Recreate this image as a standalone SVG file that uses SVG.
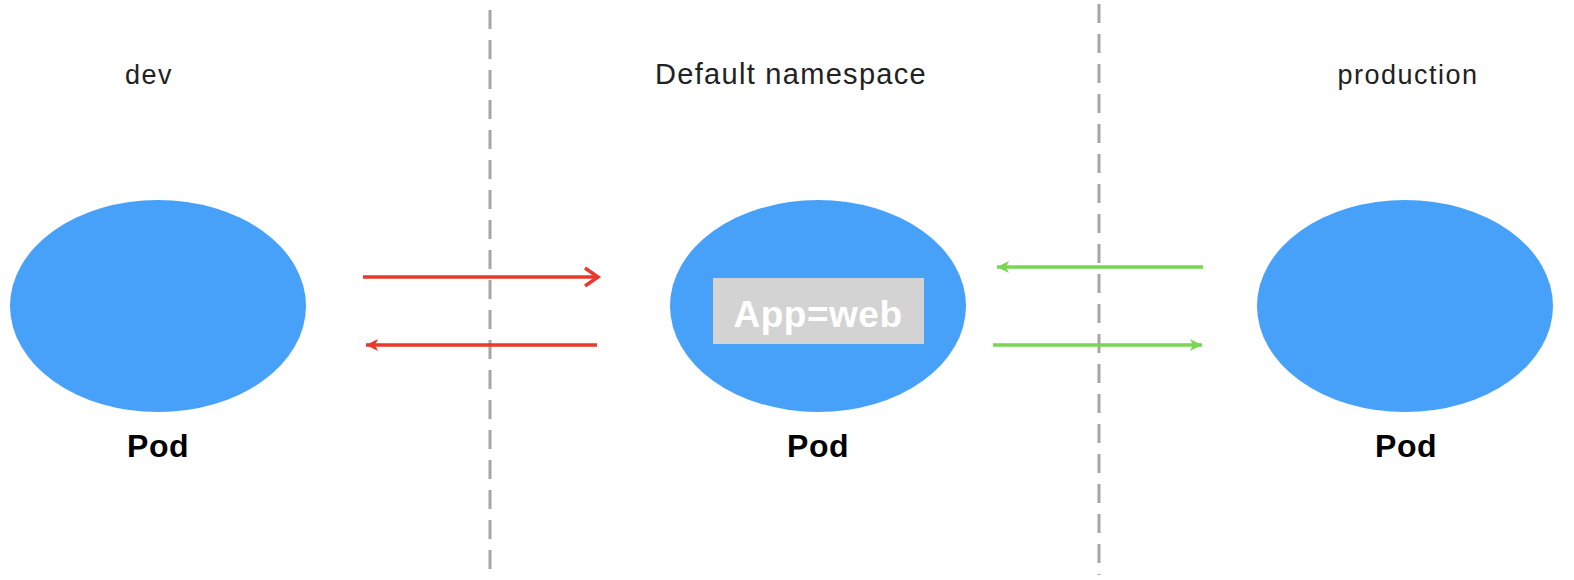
<svg xmlns="http://www.w3.org/2000/svg" width="1574" height="580" viewBox="0 0 1574 580">
<style>
.ns{font-family:"Liberation Sans",Arial,sans-serif;fill:#222;text-anchor:middle;}
.pod{fill:#48a1f8;}
.podlbl{font-family:"Liberation Sans",Arial,sans-serif;font-weight:bold;font-size:32px;letter-spacing:0.5px;fill:#000;text-anchor:middle;}
.sep{stroke:#a6a6a6;stroke-width:3;stroke-dasharray:19 11;fill:none;}
.red{stroke:#e8392c;stroke-width:3.5;fill:none;}
.green{stroke:#79d552;stroke-width:3.5;fill:none;}
</style>
<defs>
<marker id="redFill" markerWidth="14" markerHeight="14" refX="12" refY="6" orient="auto" markerUnits="userSpaceOnUse"><path d="M0,0 L12,6 L0,12 L3,6 Z" fill="#e8392c"/></marker>
<marker id="greenFill" markerWidth="14" markerHeight="14" refX="12" refY="6" orient="auto" markerUnits="userSpaceOnUse"><path d="M0,0 L12,6 L0,12 L3,6 Z" fill="#79d552"/></marker>
</defs>
<rect width="1574" height="580" fill="#fff"/>
<g id="separators">
<line class="sep" x1="490" y1="10" x2="490" y2="575"/>
<line class="sep" x1="1099" y1="4" x2="1099" y2="575"/>
</g>
<g id="ns-labels">
<text class="ns" x="149" y="84" font-size="27" letter-spacing="1.5">dev</text>
<text class="ns" x="791" y="84" font-size="29" letter-spacing="1.3">Default namespace</text>
<text class="ns" x="1408" y="84" font-size="27" letter-spacing="1.5">production</text>
</g>
<g id="pod-dev">
<ellipse class="pod" cx="158" cy="306" rx="148" ry="106"/>
<text class="podlbl" x="158" y="457">Pod</text>
</g>
<g id="pod-default">
<ellipse class="pod" cx="818" cy="306" rx="148" ry="106"/>
<rect x="713" y="278" width="211" height="66" fill="#d3d3d3"/>
<text x="818" y="327" font-family="'Liberation Sans',Arial,sans-serif" font-weight="bold" font-size="37" letter-spacing="0.5" fill="#fff" text-anchor="middle">App=web</text>
<text class="podlbl" x="818" y="457">Pod</text>
</g>
<g id="pod-production">
<ellipse class="pod" cx="1405" cy="306" rx="148" ry="106"/>
<text class="podlbl" x="1406" y="457">Pod</text>
</g>
<g id="connectors">
<line class="red" x1="363" y1="277" x2="597" y2="277"/>
<path class="red" d="M585,268 L598,277 L585,286" stroke-linejoin="miter"/>
<line class="red" x1="597" y1="345" x2="366" y2="345" marker-end="url(#redFill)"/>
<line class="green" x1="1203" y1="267" x2="997" y2="267" marker-end="url(#greenFill)"/>
<line class="green" x1="993" y1="345" x2="1202" y2="345" marker-end="url(#greenFill)"/>
</g>
</svg>
